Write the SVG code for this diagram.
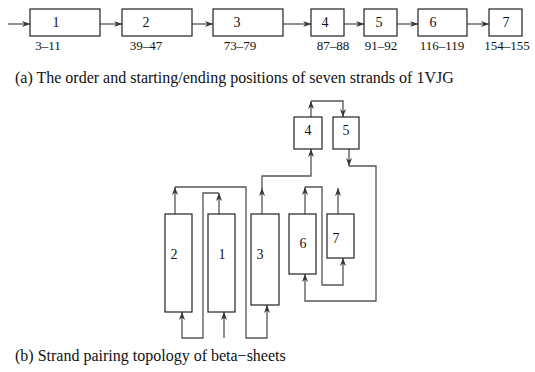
<svg xmlns="http://www.w3.org/2000/svg" width="535" height="372" viewBox="0 0 535 372">
<style>
.box{fill:#fff;stroke:#222;stroke-width:1.2}
.ln{fill:none;stroke:#555;stroke-width:1.3}
.ar{fill:none;stroke:#555;stroke-width:1.3;marker-end:url(#ah)}
.t{font-family:"Liberation Serif","Times New Roman",serif;font-size:14px;fill:#111;text-anchor:middle}
.lbl{font-family:"Liberation Serif","Times New Roman",serif;font-size:13px;fill:#111;text-anchor:middle}
.cap{font-family:"Liberation Serif","Times New Roman",serif;font-size:16px;fill:#111}
</style>
<defs>
<marker id="ah" markerUnits="userSpaceOnUse" markerWidth="10" markerHeight="8" refX="8" refY="3" orient="auto">
<path d="M0,0 L8,3 L0,6 L2.5,3 z" fill="#333"/>
</marker>
</defs>
<g id="connectors">
<path class="ar" d="M8,24 H30"/>
<path class="ar" d="M100,24 H122"/>
<path class="ar" d="M192,24 H213"/>
<path class="ar" d="M283,24 H311"/>
<path class="ar" d="M344,24 H364"/>
<path class="ar" d="M397,24 H418"/>
<path class="ar" d="M467,24 H489"/>
<path class="ar" d="M224,338 V312"/>
<path class="ar" d="M219,214 V193"/>
<path class="ar" d="M219,193 H203 V338 H182 V312"/>
<path class="ar" d="M175,214 V187"/>
<path class="ar" d="M175,187 H246 V338 H267 V305"/>
<path class="ar" d="M262,214 V188"/>
<path class="ar" d="M262,189 V176 H311 V149"/>
<path class="ar" d="M311,117 V101"/>
<path class="ar" d="M311,101 H343 V117"/>
<path class="ar" d="M349,149 V166"/>
<path class="ar" d="M349,166 H376 V301 H305 V274"/>
<path class="ar" d="M305,214 V187"/>
<path class="ar" d="M305,187 H322 V285 H343 V258"/>
<path class="ar" d="M338,214 V188"/>
</g>
<g id="s1"><rect class="box" x="30" y="9" width="70" height="27"/><text class="t" x="56" y="27">1</text><text class="lbl" x="48" y="50">3–11</text></g>
<g id="s2"><rect class="box" x="122" y="9" width="70" height="27"/><text class="t" x="146" y="27">2</text><text class="lbl" x="146" y="50">39–47</text></g>
<g id="s3"><rect class="box" x="213" y="9" width="70" height="27"/><text class="t" x="237" y="27">3</text><text class="lbl" x="240" y="50">73–79</text></g>
<g id="s4"><rect class="box" x="311" y="9" width="33" height="27"/><text class="t" x="325" y="27">4</text><text class="lbl" x="333" y="50">87–88</text></g>
<g id="s5"><rect class="box" x="364" y="9" width="33" height="27"/><text class="t" x="379" y="27">5</text><text class="lbl" x="381" y="50">91–92</text></g>
<g id="s6"><rect class="box" x="418" y="9" width="49" height="27"/><text class="t" x="433" y="27">6</text><text class="lbl" x="442" y="50">116–119</text></g>
<g id="s7"><rect class="box" x="489" y="9" width="33" height="27"/><text class="t" x="506" y="27">7</text><text class="lbl" x="507" y="50">154–155</text></g>
<text class="cap" x="15" y="83">(a) The order and starting/ending positions of seven strands of 1VJG</text>
<g id="b4"><rect class="box" x="294" y="117" width="28" height="32"/><text class="t" x="308" y="135">4</text></g>
<g id="b5"><rect class="box" x="333" y="117" width="26" height="32"/><text class="t" x="346" y="135">5</text></g>
<g id="b2"><rect class="box" x="165" y="214" width="27" height="98"/><text class="t" x="174" y="259">2</text></g>
<g id="b1"><rect class="box" x="208" y="214" width="27" height="98"/><text class="t" x="222" y="259">1</text></g>
<g id="b3"><rect class="box" x="251" y="214" width="28" height="91"/><text class="t" x="260" y="259">3</text></g>
<g id="b6"><rect class="box" x="289" y="214" width="27" height="60"/><text class="t" x="303" y="248">6</text></g>
<g id="b7"><rect class="box" x="327" y="214" width="27" height="44"/><text class="t" x="336" y="243">7</text></g>
<text class="cap" x="15" y="361">(b) Strand pairing topology of beta−sheets</text>
</svg>
